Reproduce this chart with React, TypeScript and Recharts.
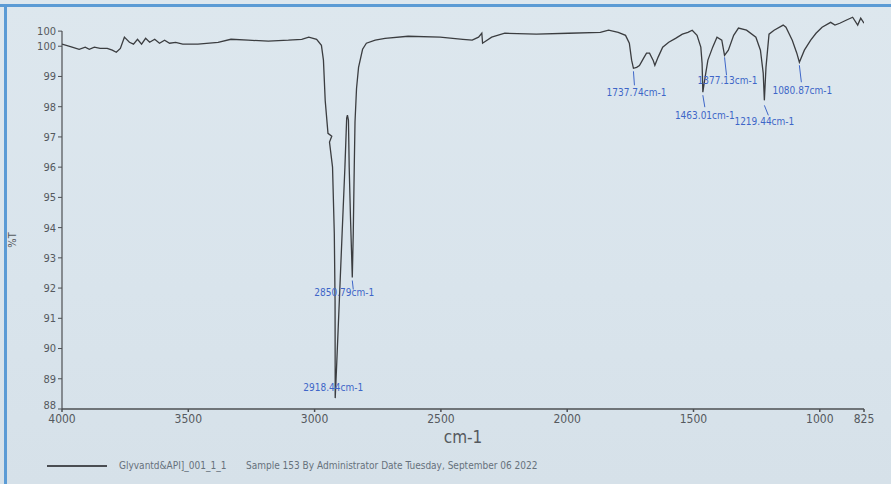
import React from "react";
import { LineChart, Line, XAxis, YAxis, ReferenceDot, ReferenceLine } from "recharts";

// Spectrum: wavenumber (cm-1) and %T, in trace order
const wavenumbers = [
  4000, 3960, 3932, 3908, 3892, 3872, 3849, 3821, 3801, 3785, 3769, 3753, 3733, 3717, 3701, 3685,
  3669, 3653, 3633, 3614, 3594, 3574, 3550, 3522, 3462, 3382, 3331, 3263, 3183, 3104, 3051, 3023,
  2992, 2973, 2965, 2958, 2947, 2932, 2941, 2929, 2922, 2919, 2918.6, 2918.44, 2913, 2902, 2891,
  2880, 2873, 2870, 2866, 2863, 2858, 2854, 2850.79, 2847, 2843, 2840, 2834, 2826, 2810, 2795,
  2760, 2721, 2630, 2503, 2413, 2376, 2351, 2338, 2335, 2299, 2247, 2122, 1995, 1869, 1836, 1798,
  1769, 1754, 1745, 1737.74, 1725, 1714, 1698, 1686, 1674, 1660, 1653, 1640, 1622, 1598, 1571,
  1544, 1522, 1505, 1486, 1471, 1466, 1463.01, 1454, 1443, 1424, 1407, 1388, 1377.13, 1362, 1341,
  1322, 1290, 1253, 1235, 1224, 1219.44, 1213, 1201, 1181, 1145, 1134, 1109, 1091, 1080.87, 1061,
  1036, 1015, 991, 957, 940, 921, 896, 870, 850, 838, 825,
];
const transmittance = [
  100.07, 99.97, 99.9, 99.97, 99.9, 99.97, 99.93, 99.93, 99.87, 99.8, 99.93, 100.3, 100.13, 100.07,
  100.23, 100.07, 100.26, 100.13, 100.23, 100.1, 100.2, 100.1, 100.13, 100.07, 100.07, 100.13,
  100.23, 100.2, 100.17, 100.2, 100.23, 100.3, 100.23, 100.03, 99.54, 98.2, 97.12, 97.02, 96.83,
  96.0, 93.8, 91.6, 89.4, 88.36, 89.39, 91.6, 93.82, 96.0, 97.62, 97.72, 97.55, 96.0, 94.35, 93.26,
  92.35, 93.8, 96.0, 97.5, 98.6, 99.3, 99.9, 100.1, 100.2, 100.26, 100.33, 100.3, 100.23, 100.2,
  100.3, 100.43, 100.1, 100.3, 100.43, 100.4, 100.43, 100.46, 100.53, 100.46, 100.36, 100.1, 99.54,
  99.27, 99.3, 99.36, 99.6, 99.77, 99.77, 99.54, 99.37, 99.64, 99.97, 100.13, 100.26, 100.4, 100.46,
  100.53, 100.36, 99.97, 99.44, 98.48, 98.98, 99.54, 99.97, 100.3, 100.2, 99.7, 99.87, 100.36, 100.6,
  100.53, 100.3, 99.87, 99.11, 98.21, 99.31, 100.4, 100.53, 100.7, 100.63, 100.2, 99.77, 99.47,
  99.87, 100.2, 100.43, 100.63, 100.79, 100.7, 100.76, 100.86, 100.96, 100.7, 100.93, 100.76,
];

// Peak annotations
const peakWavenumbers = [2918.44, 2850.79, 1737.74, 1463.01, 1377.13, 1219.44, 1080.87];
const peakTransmittance = [88.36, 92.35, 99.27, 98.48, 99.7, 98.21, 99.47];
const peakLabels = [
  "2918.44cm-1",
  "2850.79cm-1",
  "1737.74cm-1",
  "1463.01cm-1",
  "1377.13cm-1",
  "1219.44cm-1",
  "1080.87cm-1",
];

// Axis ticks
const xTicks = [4000, 3500, 3000, 2500, 2000, 1500, 1000, 825];
const yTicks = [88, 89, 90, 91, 92, 93, 94, 95, 96, 97, 98, 99, 100, 100.5];
const yTickLabels = ["88", "89", "90", "91", "92", "93", "94", "95", "96", "97", "98", "99", "100", "100"];

const xAxisTitle = "cm-1";
const yAxisTitle = "%T";
const seriesName = "Glyvantd&API]_001_1_1";
const footerText = "Sample 153 By Administrator Date Tuesday, September 06 2022";

const rows = wavenumbers.map((wn, i) => ({ wn, t: transmittance[i] }));

// label placement (pixels, relative to the peak point)
const labelLayout = [
  { dx: -2, l0: 0, l1: 0, lx: 0, ty: -7 },
  { dx: -8, l0: 3, l1: 12, lx: 1, ty: 19 },
  { dx: 3, l0: 3, l1: 17, lx: 1, ty: 28 },
  { dx: 2, l0: 3, l1: 15, lx: 2, ty: 27 },
  { dx: 3, l0: 2, l1: 20, lx: 2, ty: 29 },
  { dx: 0, l0: 5, l1: 15, lx: 4, ty: 25 },
  { dx: 3, l0: 3, l1: 20, lx: 2, ty: 32 },
];

const FONT = "'Liberation Sans Narrow', 'DejaVu Sans Condensed', 'Liberation Sans', sans-serif";
const AXIS = "#4d4f52";
const TEXT = "#55595e";
const BLUE = "#3e66c8";

function PeakMark(props: any) {
  const { cx, cy, idx } = props;
  const lay = labelLayout[idx];
  return (
    <g>
      {lay.l1 > lay.l0 && (
        <line
          x1={cx}
          y1={cy + lay.l0}
          x2={cx + lay.lx}
          y2={cy + lay.l1}
          stroke={BLUE}
          strokeWidth={1}
        />
      )}
      <text
        x={cx + lay.dx}
        y={cy + lay.ty}
        textAnchor="middle"
        fontSize={10}
        fontFamily={FONT}
        fill={BLUE}
      >
        {peakLabels[idx]}
      </text>
    </g>
  );
}

function YTick(props: any) {
  const { x, y, payload, index } = props;
  const label = yTickLabels[index] ?? String(payload.value);
  const nudge = index === 0 ? -4 : 0;
  return (
    <text
      x={x}
      y={y + nudge}
      dy="0.355em"
      textAnchor="end"
      fontSize={11}
      fontFamily={FONT}
      fill={TEXT}
    >
      {label}
    </text>
  );
}

function YTitle(props: any) {
  const vb = props.viewBox || { x: 0, y: 0, width: 0, height: 0 };
  const cx = 13;
  const cy = vb.y + vb.height * 0.57;
  return (
    <text
      x={cx}
      y={cy}
      transform={`rotate(-90 ${cx} ${cy})`}
      textAnchor="middle"
      dominantBaseline="central"
      fontSize={11}
      fontFamily={FONT}
      fill={TEXT}
    >
      {yAxisTitle}
    </text>
  );
}

export default function App() {
  return (
    <div
      style={{
        position: "absolute",
        left: 0,
        top: 0,
        width: 891,
        height: 484,
        background: "linear-gradient(180deg, #dde7ee 0%, #d9e4ec 60%, #d6e1e9 100%)",
        overflow: "hidden",
        fontFamily: FONT,
      }}
    >
      <div style={{ position: "absolute", left: 0, top: 4, width: 891, height: 3, background: "#5b9bd5" }} />
      <div style={{ position: "absolute", left: 4, top: 4, width: 3, height: 480, background: "#5b9bd5" }} />
      <LineChart
        width={891}
        height={484}
        data={rows}
        margin={{ top: 16, right: 27, bottom: 45, left: 22 }}
      >
        <XAxis
          dataKey="wn"
          type="number"
          domain={[825, 4000]}
          reversed
          ticks={xTicks}
          interval={0}
          allowDataOverflow
          height={30}
          stroke={AXIS}
          strokeWidth={1.5}
          tickSize={3}
          tick={{ fontSize: 12, fill: TEXT, fontFamily: FONT }}
          label={{ value: xAxisTitle, position: "bottom", offset: -8, fontSize: 17, fill: TEXT, fontFamily: FONT }}
        />
        <YAxis
          type="number"
          domain={[88, 101]}
          ticks={yTicks}
          interval={0}
          allowDataOverflow
          width={40}
          axisLine={false}
          stroke={AXIS}
          tickSize={4}
          tick={<YTick />}
          label={<YTitle />}
        />
        <ReferenceLine
          segment={[
            { x: 4000, y: 88 },
            { x: 4000, y: 100.5 },
          ]}
          stroke={AXIS}
          strokeWidth={1.2}
          ifOverflow="visible"
        />
        <Line
          type="linear"
          dataKey="t"
          stroke="#3b3d40"
          strokeWidth={1.3}
          dot={false}
          isAnimationActive={false}
        />
        {peakWavenumbers.map((wn, i) => (
          <ReferenceDot
            key={wn}
            x={wn}
            y={peakTransmittance[i]}
            r={0}
            ifOverflow="visible"
            shape={(p: any) => <PeakMark {...p} idx={i} />}
          />
        ))}
      </LineChart>
      <div style={{ position: "absolute", left: 47, top: 465, width: 60, height: 2, background: "#4a4d52" }} />
      <div
        style={{
          position: "absolute",
          left: 119,
          top: 459,
          fontSize: 10,
          lineHeight: "14px",
          color: "#66717c",
          whiteSpace: "nowrap",
        }}
      >
        {seriesName}
      </div>
      <div
        style={{
          position: "absolute",
          left: 246,
          top: 459,
          fontSize: 10,
          lineHeight: "14px",
          color: "#66717c",
          whiteSpace: "nowrap",
        }}
      >
        {footerText}
      </div>
    </div>
  );
}
